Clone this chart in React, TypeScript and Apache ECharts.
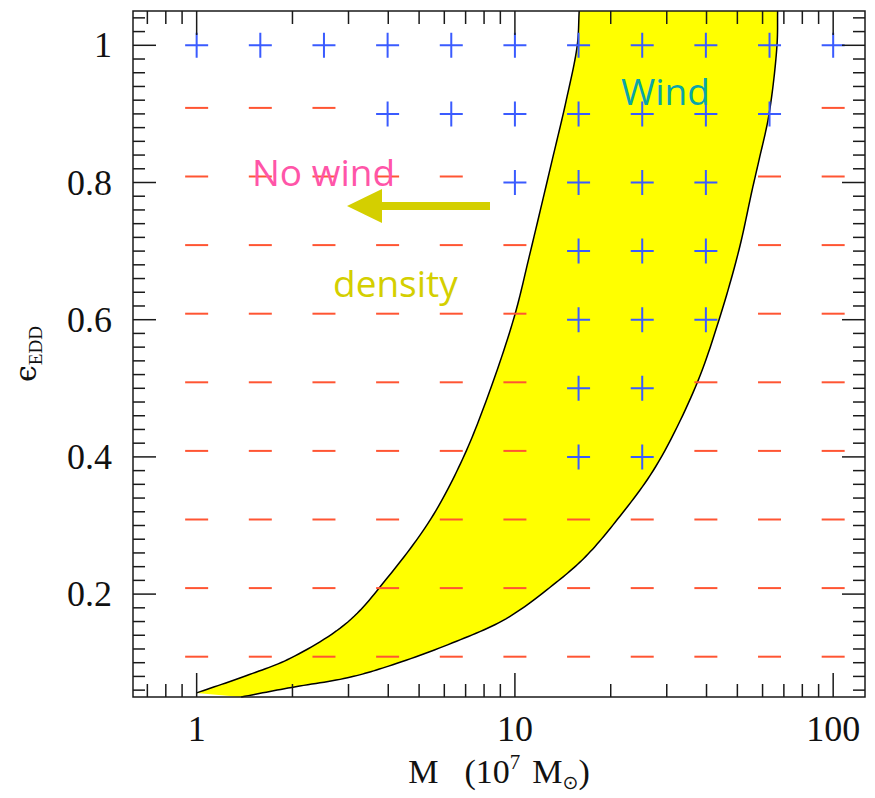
import React, { useEffect, useRef } from "react";
import * as echarts from "echarts";

// ---- data ----
const massGrid = [1, 1.585, 2.512, 3.981, 6.31, 10, 15.85, 25.12, 39.81, 63.1, 100];
const eddGrid = [1.0, 0.9, 0.8, 0.7, 0.6, 0.5, 0.4, 0.3, 0.2, 0.1];
// "+" = wind, "-" = no wind ; one string per eddGrid row, one char per massGrid column
const windMap = [
  "+++++++++++",
  "---+++++++-",
  "-----++++--",
  "------+++--",
  "------+++--",
  "------++---",
  "------++---",
  "-----------",
  "-----------",
  "-----------",
];

// boundaries of the yellow band (mass in 1e7 Msun, Eddington ratio)
const leftCurveMass = [1.0, 1.43, 1.98, 2.98, 4.01, 5.45, 6.85, 8.2, 9.95, 11.09, 13.1, 14.5, 15.7, 15.92];
const leftCurveEdd = [0.056, 0.081, 0.107, 0.159, 0.226, 0.31, 0.397, 0.487, 0.604, 0.692, 0.833, 0.92, 1.0, 1.05];

const rightCurveMass = [1.38, 1.99, 2.98, 4.01, 6.37, 9.37, 13.48, 16.7, 21.0, 27.7, 37.0, 43.8, 50.6, 55.7, 58.5, 62.9, 66.6, 66.9];
const rightCurveEdd = [0.05, 0.064, 0.078, 0.095, 0.129, 0.164, 0.217, 0.255, 0.309, 0.386, 0.503, 0.6, 0.702, 0.79, 0.833, 0.9, 1.0, 1.05];

const xMajorTicks = [1, 10, 100];
const xMinorTicks = [0.7, 0.8, 0.9, 2, 3, 4, 5, 6, 7, 8, 9, 20, 30, 40, 50, 60, 70, 80, 90];
const yMajorTicks = [0.2, 0.4, 0.6, 0.8, 1.0];
const yMinorTicks = [
  0.06, 0.08, 0.1, 0.12, 0.14, 0.16, 0.18, 0.22, 0.24, 0.26, 0.28, 0.3, 0.32, 0.34, 0.36, 0.38,
  0.42, 0.44, 0.46, 0.48, 0.5, 0.52, 0.54, 0.56, 0.58, 0.62, 0.64, 0.66, 0.68, 0.7, 0.72, 0.74,
  0.76, 0.78, 0.82, 0.84, 0.86, 0.88, 0.9, 0.92, 0.94, 0.96, 0.98, 1.02, 1.04,
];
const xLabelValues = [1, 10, 100];
const yLabelValues = [0.2, 0.4, 0.6, 0.8, 1];

const X_MIN = Math.pow(10, -0.2);
const X_MAX = Math.pow(10, 2.1);
const Y_MIN = 0.05;
const Y_MAX = 1.05;

const SERIF = "'Liberation Serif', 'DejaVu Serif', serif";
const SANS = "'Open Sans', 'Noto Sans', sans-serif";

// centripetal Catmull-Rom through pixel points (rendering only)
function smoothPixels(P: number[][], steps = 14): number[][] {
  const n = P.length;
  if (n < 3) return P.slice();
  const out: number[][] = [];
  const get = (i: number) => {
    if (i < 0) return [2 * P[0][0] - P[1][0], 2 * P[0][1] - P[1][1]];
    if (i >= n) return [2 * P[n - 1][0] - P[n - 2][0], 2 * P[n - 1][1] - P[n - 2][1]];
    return P[i];
  };
  const td = (a: number[], b: number[]) => Math.max(Math.sqrt(Math.hypot(b[0] - a[0], b[1] - a[1])), 1e-4);
  const lerp = (a: number[], b: number[], ta: number, tb: number, t: number) => {
    const w = (t - ta) / (tb - ta);
    return [a[0] + (b[0] - a[0]) * w, a[1] + (b[1] - a[1]) * w];
  };
  for (let i = 0; i < n - 1; i++) {
    const p0 = get(i - 1), p1 = get(i), p2 = get(i + 1), p3 = get(i + 2);
    const t0 = 0;
    const t1 = t0 + td(p0, p1);
    const t2 = t1 + td(p1, p2);
    const t3 = t2 + td(p2, p3);
    for (let s = 0; s < steps; s++) {
      const t = t1 + ((t2 - t1) * s) / steps;
      const a1 = lerp(p0, p1, t0, t1, t);
      const a2 = lerp(p1, p2, t1, t2, t);
      const a3 = lerp(p2, p3, t2, t3, t);
      const b1 = lerp(a1, a2, t0, t2, t);
      const b2 = lerp(a2, a3, t1, t3, t);
      out.push(lerp(b1, b2, t1, t2, t));
    }
  }
  out.push(P[n - 1]);
  return out;
}

export default function App() {
  const ref = useRef<HTMLDivElement>(null);

  useEffect(() => {
    if (!ref.current) return;
    const chart = echarts.init(ref.current, undefined, { renderer: "svg" });

    const windPts: number[][] = [];
    const noWindPts: number[][] = [];
    eddGrid.forEach((e, r) => {
      massGrid.forEach((m, c) => {
        if (windMap[r][c] === "+") windPts.push([m, e]);
        else noWindPts.push([m, e]);
      });
    });

    const leftCurve = leftCurveMass.map((m, i) => [m, leftCurveEdd[i]]);
    const rightCurve = rightCurveMass.map((m, i) => [m, rightCurveEdd[i]]);

    const xTickData = [
      ...xMajorTicks.map((v) => [v, Y_MIN, 1]),
      ...xMinorTicks.map((v) => [v, Y_MIN, 0]),
    ];
    const yTickData = [
      ...yMajorTicks.map((v) => [X_MIN, v, 1]),
      ...yMinorTicks.map((v) => [X_MIN, v, 0]),
    ];

    const tickStyle = { stroke: "#1a1a1a", lineWidth: 1.5 };
    const ink = "#111";

    const option: any = {
      animation: false,
      backgroundColor: "#ffffff",
      grid: { left: 133, top: 11, width: 732, height: 686, containLabel: false },
      xAxis: {
        type: "log",
        logBase: 10,
        min: X_MIN,
        max: X_MAX,
        axisLine: { show: false },
        axisTick: { show: false },
        splitLine: { show: false },
        minorTick: { show: false },
        axisLabel: {
          customValues: xLabelValues,
          fontFamily: SERIF,
          fontSize: 36,
          color: ink,
          margin: 14,
          formatter: (v: number) => String(Math.round(v)),
        },
        name: "{m|M}{g1| }{m|(10}{sup|7}{g2| }{m|M}{sub|⊙}{m|)}",
        nameLocation: "middle",
        nameGap: 52,
        nameTextStyle: {
          rich: {
            m: { fontFamily: SERIF, fontSize: 34, color: ink, lineHeight: 40 },
            g1: { fontFamily: SERIF, fontSize: 34, width: 26, lineHeight: 40 },
            g2: { fontFamily: SERIF, fontSize: 34, width: 12, lineHeight: 40 },
            sup: { fontFamily: SERIF, fontSize: 21, color: ink, lineHeight: 22, verticalAlign: "top" },
            sub: { fontFamily: "'DejaVu Sans', sans-serif", fontSize: 19, color: ink, lineHeight: 19, verticalAlign: "bottom" },
          },
        },
      },
      yAxis: {
        type: "value",
        min: Y_MIN,
        max: Y_MAX,
        axisLine: { show: false },
        axisTick: { show: false },
        splitLine: { show: false },
        axisLabel: {
          customValues: yLabelValues,
          fontFamily: SERIF,
          fontSize: 36,
          color: ink,
          margin: 21,
          formatter: (v: number) => String(Math.round(v * 10) / 10),
        },
        name: "{e|ϵ}{sub|EDD}",
        nameLocation: "middle",
        nameRotate: 90,
        nameGap: 88,
        nameTextStyle: {
          rich: {
            e: { fontFamily: "'DejaVu Serif', serif", fontSize: 30, color: ink, lineHeight: 40 },
            sub: { fontFamily: SERIF, fontSize: 19, color: ink, lineHeight: 20, verticalAlign: "bottom" },
          },
        },
      },
      series: [
        {
          type: "custom",
          name: "band",
          z: 1,
          data: [[leftCurveMass[0], leftCurveEdd[0]]],
          silent: true,
          renderItem: (params: any, api: any) => {
            const lp = smoothPixels(leftCurve.map((p) => api.coord(p)));
            const rp = smoothPixels(rightCurve.map((p) => api.coord(p)));
            const fillPts = [...lp, ...rp.slice().reverse()];
            const lineStyle = { stroke: "#000", lineWidth: 1.5, fill: "none" };
            return {
              type: "group",
              children: [
                { type: "polygon", shape: { points: fillPts }, style: { fill: "#ffff00", stroke: "none" } },
                { type: "polyline", shape: { points: lp }, style: lineStyle },
                { type: "polyline", shape: { points: rp }, style: lineStyle },
              ],
            };
          },
        },
        {
          type: "scatter",
          name: "No wind",
          z: 3,
          data: noWindPts,
          symbol: "path://M0 0H23V2H0Z",
          symbolSize: [23, 2],
          symbolOffset: [0, -6],
          itemStyle: { color: "#ff5533", opacity: 1 },
          silent: true,
        },
        {
          type: "scatter",
          name: "Wind",
          z: 3,
          data: windPts,
          symbol: "path://M0 11.5H23V13.5H0Z M10.5 0H12.5V25H10.5Z",
          symbolSize: [23, 25],
          itemStyle: { color: "#3a5bff", opacity: 1 },
          silent: true,
        },
        {
          type: "custom",
          name: "xticks",
          z: 4,
          data: xTickData,
          encode: { x: 0, y: 1 },
          silent: true,
          renderItem: (params: any, api: any) => {
            const v = api.value(0);
            const major = api.value(2) === 1;
            const len = major ? 24 : 13;
            const b = api.coord([v, Y_MIN]);
            const t = api.coord([v, Y_MAX]);
            return {
              type: "group",
              children: [
                { type: "line", shape: { x1: b[0], y1: b[1], x2: b[0], y2: b[1] - len }, style: tickStyle },
                { type: "line", shape: { x1: t[0], y1: t[1], x2: t[0], y2: t[1] + len }, style: tickStyle },
              ],
            };
          },
        },
        {
          type: "custom",
          name: "yticks",
          z: 4,
          data: yTickData,
          encode: { x: 0, y: 1 },
          silent: true,
          renderItem: (params: any, api: any) => {
            const v = api.value(1);
            const major = api.value(2) === 1;
            const len = major ? 23 : 12;
            const l = api.coord([X_MIN, v]);
            const r = api.coord([X_MAX, v]);
            return {
              type: "group",
              children: [
                { type: "line", shape: { x1: l[0], y1: l[1], x2: l[0] + len, y2: l[1] }, style: tickStyle },
                { type: "line", shape: { x1: r[0], y1: r[1], x2: r[0] - len, y2: r[1] }, style: tickStyle },
              ],
            };
          },
        },
        {
          type: "custom",
          name: "frame",
          z: 5,
          data: [[X_MIN, Y_MIN]],
          silent: true,
          renderItem: (params: any, api: any) => {
            const a = api.coord([X_MIN, Y_MAX]);
            const b = api.coord([X_MAX, Y_MIN]);
            return {
              type: "rect",
              shape: { x: a[0], y: a[1], width: b[0] - a[0], height: b[1] - a[1] },
              style: { fill: "none", stroke: "#1a1a1a", lineWidth: 1.5 },
            };
          },
        },
      ],
      graphic: [
        {
          type: "text",
          left: 621,
          top: 72,
          z: 10,
          style: { text: "Wind", fontFamily: SANS, fontSize: 37, fill: "#0aa5a8" },
        },
        {
          type: "text",
          left: 252,
          top: 153,
          z: 10,
          style: { text: "No wind", fontFamily: SANS, fontSize: 37, fill: "#ff55a8" },
        },
        {
          type: "text",
          left: 333,
          top: 264,
          z: 10,
          style: { text: "density", fontFamily: SANS, fontSize: 37, fill: "#d4cf00" },
        },
        {
          type: "rect",
          z: 10,
          shape: { x: 378, y: 202, width: 112, height: 8 },
          style: { fill: "#d4cf00" },
        },
        {
          type: "polygon",
          z: 10,
          shape: { points: [[347, 206], [382, 189], [382, 223]] },
          style: { fill: "#d4cf00" },
        },
      ],
    };

    chart.setOption(option);
    return () => chart.dispose();
  }, []);

  return (
    <div
      ref={ref}
      style={{ position: "fixed", left: 0, top: 0, width: 875, height: 798, background: "#fff" }}
    />
  );
}
